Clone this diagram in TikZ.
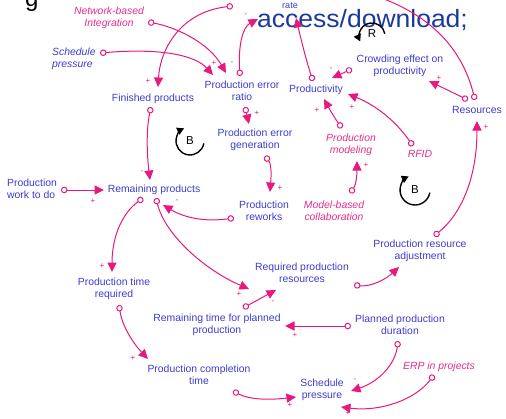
\documentclass[tikz,border=0pt]{standalone}
\usepackage{fontspec}
\setmainfont{Liberation Sans}
\usetikzlibrary{arrows.meta}
\definecolor{mg}{RGB}{232,25,125}
\definecolor{lb}{RGB}{60,60,205}
\definecolor{ml}{RGB}{228,45,140}
\definecolor{db}{RGB}{28,58,155}
\tikzset{
  lbl/.style={text=lb, font=\fontsize{10.4}{11.5}\selectfont, align=center, inner sep=0pt},
  mlbl/.style={lbl, text=ml, font=\fontsize{10.4}{11.5}\selectfont\itshape},
  sgn/.style={text=mg, font=\fontsize{8}{8}\selectfont, inner sep=0pt},
  lnk/.style={draw=mg, line width=1pt, {Circle[fill=white,length=6.5pt,width=6.5pt]}-{Triangle[length=9.5pt,width=9pt]}},
  loopar/.style={draw=black, line width=1.4pt, -{Triangle[length=7pt,width=7.5pt]}},
  looplbl/.style={font=\fontsize{11.5}{11.5}\selectfont, inner sep=0pt}
}
\begin{document}
\begin{tikzpicture}[x=1pt,y=-1pt]
\useasboundingbox (0,0) rectangle (506,418);
\clip (0,0) rectangle (506,418);

% overlay texts
\node[anchor=base west, inner sep=0pt, font=\fontsize{24}{24}\selectfont] (gfrag) at (25,6) {g};
\node[anchor=base west, inner sep=0pt, text=db, font=\fontsize{25}{25}\selectfont, xscale=1.06] (acc) at (257,27) {access/download;};

% variables
\node[lbl, font=\fontsize{9}{10}\selectfont] (rate) at (290,6) {rate};
\node[mlbl] (nbi) at (109,18) {Network-based\\Integration};
\node[mlbl, text=lb, align=left, anchor=west] (sp1) at (52,59) {Schedule\\pressure};
\node[lbl] (fp) at (153,99) {Finished products};
\node[lbl] (per) at (242,91) {Production error\\ratio};
\node[lbl] (prod) at (316,90) {Productivity};
\node[lbl] (crowd) at (400,66) {Crowding effect on\\productivity};
\node[lbl] (res) at (477,110) {Resources};
\node[lbl] (peg) at (255,140) {Production error\\generation};
\node[lbl] (rw) at (264,211) {Production\\reworks};
\node[mlbl] (mod) at (351,145) {Production\\modeling};
\node[mlbl] (rfid) at (420,154) {RFID};
\node[mlbl] (mbc) at (334,211) {Model-based\\collaboration};
\node[lbl, align=left, anchor=west] (pw) at (7,189) {Production\\work to do};
\node[lbl] (rp) at (154,190) {Remaining products};
\node[lbl] (ptr) at (114,289) {Production time\\required};
\node[lbl] (pct) at (199,375) {Production completion\\time};
\node[lbl] (rt) at (217,325) {Remaining time for planned\\production};
\node[lbl] (rqr) at (302,273) {Required production\\resources};
\node[lbl] (adj) at (420,251) {Production resource\\adjustment};
\node[lbl] (pd) at (400,325) {Planned production\\duration};
\node[mlbl] (erp) at (439,367) {ERP in projects};
\node[lbl] (sp2) at (322,390) {Schedule\\pressure};

% connector ends
\coordinate (rate-o) at (233,6);   \coordinate (fp-i) at (158,87);
\coordinate (nbi-o) at (148,22);   \coordinate (per-i1) at (226,73);
\coordinate (sp1-o) at (100,53);   \coordinate (per-i2) at (213,75);
\coordinate (per-o) at (240,76);   \coordinate (rate-i1) at (258,19);
\coordinate (prod-o) at (313,81);  \coordinate (rate-i2) at (296,18);
\coordinate (crowd-o) at (352,69); \coordinate (prod-i1) at (332,78);
\coordinate (res-o1) at (468,100); \coordinate (crowd-i) at (429,81);
\coordinate (res-o2) at (475,100); \coordinate (top-exit) at (370,-6);
\coordinate (adj-o) at (434,236);  \coordinate (res-i) at (477,121);
\coordinate (mod-o) at (342,128);  \coordinate (prod-i2) at (324,99);
\coordinate (rfid-o) at (413,146); \coordinate (prod-i3) at (348,94);
\coordinate (fp-o) at (151,107);   \coordinate (rp-i1) at (150,180);
\coordinate (per-o2) at (245,107); \coordinate (peg-i) at (249,124);
\coordinate (peg-o) at (265,156);  \coordinate (rw-i) at (270,192);
\coordinate (rw-o) at (234,218);   \coordinate (rp-i2) at (163,205);
\coordinate (mbc-o) at (350,193);  \coordinate (mod-i) at (357,161);
\coordinate (pw-o) at (61,190);    \coordinate (rp-i3) at (104,190);
\coordinate (rp-o1) at (143,198);  \coordinate (ptr-i) at (112,272);
\coordinate (rp-o2) at (156,198);  \coordinate (rqr-i1) at (249,289);
\coordinate (ptr-o) at (119,305);  \coordinate (pct-i) at (148,359);
\coordinate (pct-o) at (233,391);  \coordinate (sp2-i1) at (296,397);
\coordinate (rt-o) at (243,308);   \coordinate (rqr-i2) at (276,290);
\coordinate (rqr-o) at (354,285);  \coordinate (adj-i) at (399,267);
\coordinate (pd-o1) at (351,326);  \coordinate (rt-i) at (285,326);
\coordinate (pd-o2) at (398,341);  \coordinate (sp2-i2) at (351,391);
\coordinate (erp-o) at (434,375);  \coordinate (sp2-i3) at (341,407);

% connectors
\draw[lnk] (rate-o) .. controls (180,12) and (160,50) .. (fp-i);
\draw[lnk] (nbi-o) .. controls (180,28) and (210,45) .. (per-i1);
\draw[lnk] (sp1-o) .. controls (160,48) and (195,55) .. (per-i2);
\draw[lnk] (per-o) .. controls (238,45) and (243,27) .. (rate-i1);
\draw[lnk] (prod-o) .. controls (306,60) and (300,35) .. (rate-i2);
\draw[lnk] (crowd-o) -- (prod-i1);
\draw[lnk] (res-o1) -- (crowd-i);
\draw[draw=mg, line width=1pt, {Circle[fill=white,length=6.5pt,width=6.5pt]}-] (res-o2) .. controls (460,40) and (420,10) .. (top-exit);
\draw[lnk] (adj-o) .. controls (460,215) and (477,180) .. (res-i);
\draw[lnk] (mod-o) .. controls (336,120) and (330,110) .. (prod-i2);
\draw[lnk] (rfid-o) .. controls (395,120) and (375,105) .. (prod-i3);
\draw[lnk] (fp-o) .. controls (146,130) and (147,155) .. (rp-i1);
\draw[lnk] (per-o2) -- (peg-i);
\draw[lnk] (peg-o) .. controls (272,165) and (271,178) .. (rw-i);
\draw[lnk] (rw-o) .. controls (205,222) and (185,218) .. (rp-i2);
\draw[lnk] (mbc-o) .. controls (356,185) and (357,175) .. (mod-i);
\draw[lnk] (pw-o) -- (rp-i3);
\draw[lnk] (rp-o1) .. controls (120,215) and (112,240) .. (ptr-i);
\draw[lnk] (rp-o2) .. controls (165,235) and (205,270) .. (rqr-i1);
\draw[lnk] (ptr-o) .. controls (122,325) and (132,342) .. (pct-i);
\draw[lnk] (pct-o) .. controls (250,400) and (270,400) .. (sp2-i1);
\draw[lnk] (rt-o) -- (rqr-i2);
\draw[lnk] (rqr-o) .. controls (370,287) and (385,280) .. (adj-i);
\draw[lnk] (pd-o1) -- (rt-i);
\draw[lnk] (pd-o2) .. controls (395,365) and (378,382) .. (sp2-i2);
\draw[lnk] (erp-o) .. controls (415,400) and (380,412) .. (sp2-i3);

% polarity signs
\node[sgn] (s1) at (246,15) {-};
\node[sgn] (s2) at (148,81) {+};
\node[sgn] (s3) at (214,63) {+};
\node[sgn] (s4) at (232,63) {-};
\node[sgn] (s5) at (331,69) {-};
\node[sgn] (s6) at (439,78) {+};
\node[sgn] (s7) at (486,127) {+};
\node[sgn] (s8) at (317,110) {+};
\node[sgn] (s9) at (352,107) {+};
\node[sgn] (s10) at (257,113) {+};
\node[sgn] (s11) at (280,188) {+};
\node[sgn] (s12) at (142,172) {-};
\node[sgn] (s13) at (177,201) {-};
\node[sgn] (s14) at (366,165) {+};
\node[sgn] (s15) at (93,201) {+};
\node[sgn] (s16) at (102,266) {+};
\node[sgn] (s17) at (239,294) {+};
\node[sgn] (s18) at (273,302) {-};
\node[sgn] (s19) at (133,358) {+};
\node[sgn] (s20) at (290,405) {+};
\node[sgn] (s21) at (295,335) {+};
\node[sgn] (s22) at (355,380) {-};
\node[sgn] (s23) at (348,413) {+};

% loop markers
\node[looplbl] (Rl) at (372,34) {R};
\draw[loopar] (384.8,33.7) arc[start angle=-10, end angle=-205, radius=13];
\node[looplbl] (B1) at (190,141) {B};
\draw[loopar] (203.8,143.4) arc[start angle=10, end angle=245, radius=14];
\node[looplbl] (B2) at (415,190) {B};
\draw[loopar] (429.8,192.6) arc[start angle=10, end angle=245, radius=15];
\end{tikzpicture}
\end{document}
